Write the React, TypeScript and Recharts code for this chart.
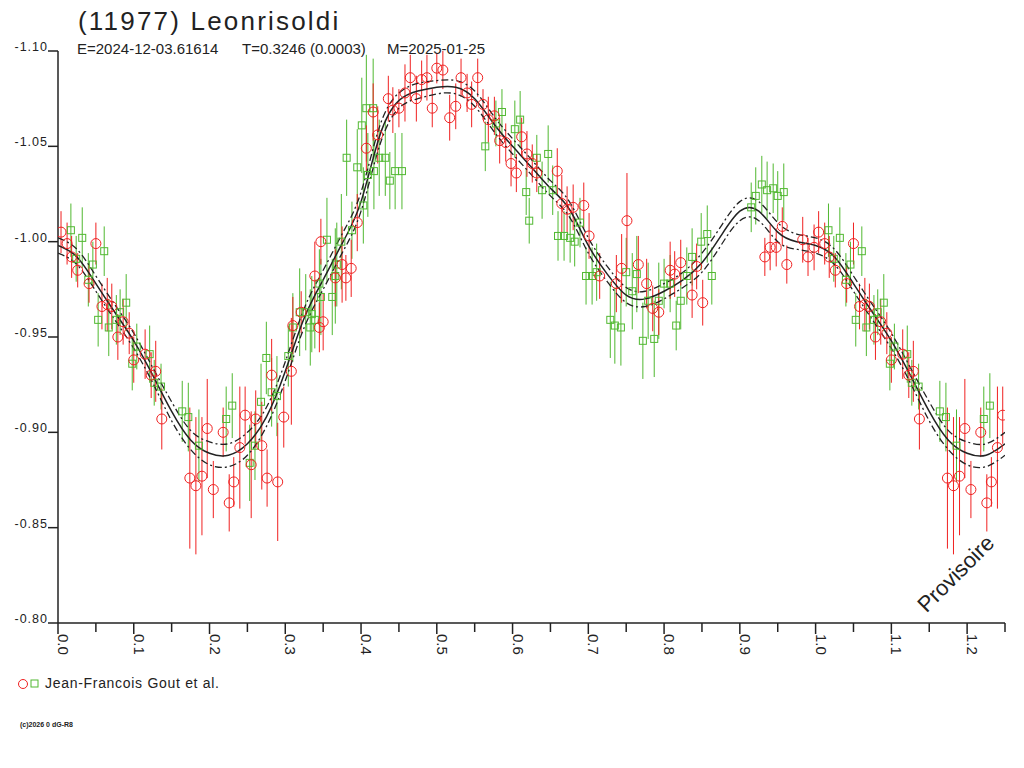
import React from 'react';
import { ComposedChart, Scatter, Line, XAxis, YAxis, ErrorBar } from 'recharts';

// observations: [phase, magnitude, error]
const redObs: number[][] = [
  [0.004, -1.005, 0.011], [0.012, -0.999, 0.011], [0.018, -0.992, 0.011], [0.026, -0.985, 0.009],
  [0.041, -0.978, 0.010], [0.050, -0.999, 0.011], [0.058, -0.966, 0.012], [0.065, -0.967, 0.014],
  [0.071, -0.966, 0.012], [0.079, -0.950, 0.012], [0.086, -0.958, 0.012], [0.094, -0.952, 0.011],
  [0.100, -0.938, 0.012], [0.115, -0.941, 0.013], [0.123, -0.930, 0.012], [0.129, -0.932, 0.016],
  [0.137, -0.907, 0.016], [0.174, -0.876, 0.037], [0.182, -0.872, 0.036], [0.190, -0.877, 0.031],
  [0.197, -0.902, 0.026], [0.205, -0.870, 0.015], [0.218, -0.900, 0.013], [0.226, -0.863, 0.015],
  [0.232, -0.874, 0.013], [0.240, -0.892, 0.032], [0.247, -0.909, 0.015], [0.255, -0.883, 0.028],
  [0.261, -0.907, 0.015], [0.269, -0.893, 0.023], [0.276, -0.876, 0.015], [0.282, -0.930, 0.019],
  [0.290, -0.874, 0.031], [0.298, -0.908, 0.016], [0.308, -0.932, 0.028], [0.310, -0.956, 0.015],
  [0.321, -0.963, 0.011], [0.339, -0.982, 0.018], [0.345, -0.955, 0.013], [0.347, -1.000, 0.012],
  [0.350, -0.958, 0.015], [0.366, -0.981, 0.015], [0.375, -0.988, 0.020], [0.380, -0.981, 0.012],
  [0.387, -0.986, 0.015], [0.395, -1.010, 0.015], [0.407, -1.049, 0.012], [0.416, -1.068, 0.015],
  [0.422, -1.056, 0.015], [0.436, -1.075, 0.012], [0.442, -1.069, 0.012], [0.450, -1.070, 0.010],
  [0.458, -1.078, 0.015], [0.465, -1.086, 0.012], [0.473, -1.075, 0.012], [0.480, -1.085, 0.010],
  [0.487, -1.086, 0.012], [0.494, -1.070, 0.010], [0.500, -1.091, 0.008], [0.508, -1.090, 0.010],
  [0.517, -1.065, 0.012], [0.525, -1.071, 0.012], [0.532, -1.086, 0.010], [0.540, -1.078, 0.010],
  [0.546, -1.072, 0.012], [0.554, -1.086, 0.010], [0.561, -1.072, 0.008], [0.568, -1.064, 0.012],
  [0.576, -1.066, 0.010], [0.583, -1.053, 0.012], [0.591, -1.052, 0.010], [0.598, -1.041, 0.012],
  [0.605, -1.036, 0.010], [0.612, -1.055, 0.010], [0.619, -1.046, 0.012], [0.626, -1.041, 0.010],
  [0.632, -1.036, 0.010], [0.659, -1.037, 0.012], [0.665, -1.020, 0.015], [0.672, -1.017, 0.012],
  [0.680, -1.018, 0.012], [0.694, -1.019, 0.012], [0.701, -1.003, 0.012], [0.715, -0.982, 0.012],
  [0.737, -0.978, 0.015], [0.744, -0.986, 0.018], [0.751, -1.011, 0.025], [0.766, -0.988, 0.015],
  [0.777, -0.978, 0.013], [0.785, -0.965, 0.012], [0.793, -0.963, 0.012], [0.808, -0.985, 0.015],
  [0.814, -0.983, 0.012], [0.822, -0.989, 0.012], [0.837, -0.972, 0.012], [0.843, -0.987, 0.012],
  [0.851, -0.968, 0.012], [0.933, -0.992, 0.010], [0.940, -0.997, 0.012], [0.948, -0.997, 0.010],
  [0.956, -1.008, 0.010], [0.962, -0.988, 0.010], [0.983, -1.001, 0.012], [0.990, -0.992, 0.010],
  [0.998, -0.997, 0.012],
];

const greenObs: number[][] = [
  [0.017, -1.006, 0.014], [0.024, -0.991, 0.012], [0.032, -1.002, 0.016], [0.040, -0.980, 0.014],
  [0.046, -0.988, 0.012], [0.053, -0.959, 0.014], [0.061, -0.995, 0.013], [0.067, -0.955, 0.015],
  [0.077, -0.959, 0.013], [0.082, -0.963, 0.012], [0.090, -0.968, 0.015], [0.098, -0.936, 0.014],
  [0.104, -0.945, 0.012], [0.121, -0.941, 0.015], [0.127, -0.926, 0.012], [0.136, -0.924, 0.012],
  [0.164, -0.911, 0.016], [0.172, -0.908, 0.018], [0.186, -0.893, 0.019], [0.222, -0.907, 0.017],
  [0.230, -0.914, 0.017], [0.253, -0.884, 0.020], [0.260, -0.893, 0.018], [0.268, -0.916, 0.020],
  [0.275, -0.939, 0.019], [0.282, -0.921, 0.018], [0.289, -0.919, 0.021], [0.304, -0.940, 0.016],
  [0.310, -0.955, 0.018], [0.319, -0.963, 0.023], [0.327, -0.963, 0.020], [0.333, -0.955, 0.020],
  [0.335, -0.962, 0.020], [0.339, -0.959, 0.015], [0.345, -0.978, 0.018], [0.347, -0.971, 0.020],
  [0.355, -1.001, 0.022], [0.362, -0.971, 0.020], [0.366, -0.982, 0.025], [0.368, -0.988, 0.022],
  [0.374, -1.000, 0.025], [0.381, -1.044, 0.020], [0.388, -1.006, 0.015], [0.395, -1.039, 0.020],
  [0.401, -1.061, 0.025], [0.403, -1.019, 0.020], [0.407, -1.070, 0.028], [0.409, -1.035, 0.022],
  [0.416, -1.070, 0.026], [0.417, -1.037, 0.020], [0.424, -1.044, 0.020], [0.432, -1.044, 0.020],
  [0.438, -1.032, 0.015], [0.445, -1.037, 0.020], [0.454, -1.037, 0.020], [0.564, -1.050, 0.013],
  [0.578, -1.062, 0.012], [0.586, -1.068, 0.012], [0.603, -1.059, 0.015], [0.610, -1.064, 0.015],
  [0.618, -1.026, 0.012], [0.622, -1.011, 0.012], [0.632, -1.044, 0.012], [0.639, -1.027, 0.015],
  [0.647, -1.046, 0.015], [0.653, -1.027, 0.013], [0.660, -1.003, 0.013], [0.668, -1.003, 0.013],
  [0.676, -1.002, 0.013], [0.682, -1.000, 0.013], [0.689, -1.010, 0.013], [0.697, -0.982, 0.015],
  [0.705, -0.982, 0.015], [0.711, -0.984, 0.015], [0.729, -0.959, 0.020], [0.735, -0.956, 0.020],
  [0.743, -0.955, 0.020], [0.750, -0.984, 0.018], [0.758, -0.974, 0.020], [0.764, -0.983, 0.020],
  [0.772, -0.948, 0.020], [0.779, -0.969, 0.020], [0.787, -0.949, 0.020], [0.793, -0.969, 0.020],
  [0.800, -0.978, 0.013], [0.808, -0.978, 0.015], [0.816, -0.956, 0.013], [0.822, -0.969, 0.015],
  [0.830, -0.982, 0.015], [0.837, -0.992, 0.015], [0.849, -1.000, 0.015], [0.857, -1.004, 0.015],
  [0.863, -0.982, 0.015], [0.915, -1.018, 0.013], [0.921, -1.024, 0.015], [0.929, -1.030, 0.015],
  [0.936, -1.027, 0.015], [0.944, -1.028, 0.013], [0.950, -1.024, 0.013], [0.958, -1.026, 0.015],
];

// fitted lightcurve (solid) and half width of the dash-dot envelope
const fitPhase = [
  0, 0.025, 0.05, 0.075, 0.1, 0.125, 0.15, 0.175, 0.2, 0.225, 0.25, 0.275, 0.3, 0.325,
  0.35, 0.375, 0.4, 0.425, 0.45, 0.475, 0.5, 0.525, 0.55, 0.575, 0.6, 0.625, 0.65, 0.675,
  0.7, 0.725, 0.75, 0.775, 0.8, 0.825, 0.85, 0.875, 0.9, 0.925, 0.95, 0.975, 1.0,
];
const fitMag = [
  -0.998, -0.992, -0.978, -0.963, -0.948, -0.930, -0.911, -0.896, -0.889, -0.888, -0.894, -0.908, -0.932, -0.960,
  -0.980, -0.999, -1.021, -1.056, -1.074, -1.079, -1.081, -1.081, -1.075, -1.062, -1.050, -1.039, -1.028, -1.017,
  -0.998, -0.983, -0.972, -0.970, -0.974, -0.980, -0.989, -1.003, -1.016, -1.016, -1.005, -1.000, -0.998,
];
const fitSpread = [
  0.004, 0.004, 0.004, 0.004, 0.004, 0.004, 0.005, 0.005, 0.006, 0.006, 0.006, 0.005, 0.005, 0.005,
  0.005, 0.005, 0.005, 0.005, 0.004, 0.004, 0.0035, 0.0035, 0.004, 0.004, 0.004, 0.004, 0.004, 0.004,
  0.004, 0.004, 0.004, 0.004, 0.004, 0.004, 0.005, 0.005, 0.005, 0.005, 0.005, 0.004, 0.004,
];

const xTicks = [0, 0.05, 0.1, 0.15, 0.2, 0.25, 0.3, 0.35, 0.4, 0.45, 0.5, 0.55, 0.6, 0.65, 0.7, 0.75, 0.8, 0.85, 0.9, 0.95, 1.0, 1.05, 1.1, 1.15, 1.2, 1.25];
const yTicks = [-1.1, -1.05, -1.0, -0.95, -0.9, -0.85, -0.8];

const PHASE_MAX = 1.25;
const FONT = "'Liberation Sans', Arial, sans-serif";
const INK = '#222';
const RED = '#f02020';
const GREEN = '#50b830';

// repeat the start of the cycle past phase 1
const unfold = (obs: number[][]) => {
  const pts = obs.map(([phase, mag, err]) => ({ phase, mag, err }));
  obs.forEach(([phase, mag, err]) => {
    if (phase + 1 <= PHASE_MAX) pts.push({ phase: phase + 1, mag, err });
  });
  return pts;
};

const redData = unfold(redObs);
const greenData = unfold(greenObs);

const curveData = fitPhase.map((p, i) => ({
  phase: p,
  fit: fitMag[i],
  upper: fitMag[i] - fitSpread[i],
  lower: fitMag[i] + fitSpread[i],
}));
fitPhase.forEach((p, i) => {
  if (i > 0 && p + 1 <= PHASE_MAX + 1e-9) {
    curveData.push({ phase: p + 1, fit: fitMag[i], upper: fitMag[i] - fitSpread[i], lower: fitMag[i] + fitSpread[i] });
  }
});

const XTick = (props: any) => {
  const { x, y, payload } = props;
  const v = payload.value;
  const major = Math.abs(v * 10 - Math.round(v * 10)) < 1e-6;
  return (
    <g>
      <line x1={x} y1={y} x2={x} y2={y + (major ? 11 : 9)} stroke={INK} strokeWidth={1.5} />
      {major && (
        <text transform={`translate(${x},${y + 11}) rotate(90)`} fontSize={15} fontFamily={FONT} fill={INK}>
          {v.toFixed(1)}
        </text>
      )}
    </g>
  );
};

const YTick = (props: any) => {
  const { x, y, payload } = props;
  return (
    <g>
      <line x1={x - 10} y1={y} x2={x} y2={y} stroke={INK} strokeWidth={1.5} />
      <text x={x - 10} y={y} textAnchor="end" fontSize={12.5} letterSpacing={1} fontFamily={FONT} fill={INK}>
        {payload.value.toFixed(2)}
      </text>
    </g>
  );
};

const RedCircle = (props: any) => (
  <circle cx={props.cx} cy={props.cy} r={5} fill="none" stroke={RED} strokeWidth={1} />
);
const GreenSquare = (props: any) => (
  <rect x={props.cx - 3.5} y={props.cy - 3.5} width={7} height={7} fill="none" stroke={GREEN} strokeWidth={1} />
);

export default function App() {
  return (
    <div style={{ position: 'absolute', left: 0, top: 0, width: 1024, height: 768, background: '#fff' }}>
      <ComposedChart width={1024} height={768} margin={{ top: 51, right: 19, left: 0, bottom: 115 }}>
        <XAxis
          dataKey="phase"
          type="number"
          domain={[0, PHASE_MAX]}
          ticks={xTicks}
          allowDataOverflow
          interval={0}
          height={30}
          tickSize={0}
          tickMargin={0}
          tickLine={false}
          axisLine={{ stroke: INK, strokeWidth: 1.5 }}
          tick={<XTick />}
        />
        <YAxis
          dataKey="mag"
          type="number"
          domain={[-1.1, -0.8]}
          ticks={yTicks}
          reversed
          allowDataOverflow
          interval={0}
          width={58}
          tickSize={0}
          tickMargin={0}
          tickLine={false}
          axisLine={{ stroke: INK, strokeWidth: 1.5 }}
          tick={<YTick />}
        />
        <Scatter data={greenData} dataKey="mag" shape={<GreenSquare />} isAnimationActive={false}>
          <ErrorBar dataKey="err" direction="y" width={0} stroke={GREEN} strokeWidth={1} />
        </Scatter>
        <Scatter data={redData} dataKey="mag" shape={<RedCircle />} isAnimationActive={false}>
          <ErrorBar dataKey="err" direction="y" width={0} stroke={RED} strokeWidth={1} />
        </Scatter>
        <Line data={curveData} dataKey="upper" type="natural" stroke={INK} strokeWidth={1.3} strokeDasharray="7 3 2 3" dot={false} activeDot={false} isAnimationActive={false} />
        <Line data={curveData} dataKey="lower" type="natural" stroke={INK} strokeWidth={1.3} strokeDasharray="7 3 2 3" dot={false} activeDot={false} isAnimationActive={false} />
        <Line data={curveData} dataKey="fit" type="natural" stroke={INK} strokeWidth={1.5} dot={false} activeDot={false} isAnimationActive={false} />
      </ComposedChart>
      <svg width={1024} height={768} style={{ position: 'absolute', left: 0, top: 0, pointerEvents: 'none' }}>
        <text x={78} y={30} fontSize={26} letterSpacing={2.2} fontFamily={FONT} fill={INK}>(11977) Leonrisoldi</text>
        <text x={77} y={54} fontSize={15} fontFamily={FONT} fill={INK}>E=2024-12-03.61614</text>
        <text x={242} y={54} fontSize={15} fontFamily={FONT} fill={INK}>T=0.3246 (0.0003)</text>
        <text x={387} y={54} fontSize={15} fontFamily={FONT} fill={INK}>M=2025-01-25</text>
        <text transform="translate(961,579) rotate(-45)" textAnchor="middle" fontSize={22} fontFamily={FONT} fill={INK}>Provisoire</text>
        <circle cx={23} cy={684} r={4.5} fill="none" stroke={RED} strokeWidth={1} />
        <rect x={31} y={680} width={7} height={7} fill="none" stroke={GREEN} strokeWidth={1} />
        <text x={45} y={688} fontSize={14} letterSpacing={0.7} fontFamily={FONT} fill={INK}>Jean-Francois Gout et al.</text>
        <text x={20} y={727} fontSize={7} fontWeight="bold" fontFamily={FONT} fill={INK}>(c)2026 0 dG-R8</text>
      </svg>
    </div>
  );
}
